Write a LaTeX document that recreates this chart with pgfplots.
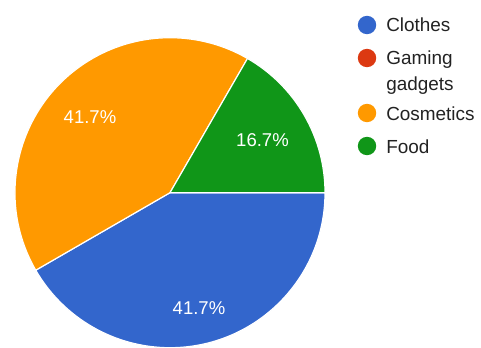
\documentclass[border=0pt]{standalone}
\usepackage{pgfplots}
\pgfplotsset{compat=1.18}
\usepackage{pgfplotstable}
\usepackage{fontspec}
\setmainfont{Liberation Sans}
\definecolor{cBlue}{HTML}{3366CC}
\definecolor{cRed}{HTML}{DC3912}
\definecolor{cOrange}{HTML}{FF9900}
\definecolor{cGreen}{HTML}{109618}
\definecolor{cText}{HTML}{222222}
\pgfplotstableread{
name count
Clothes 5
Gaming 0
Cosmetics 5
Food 2
}\piedata
\pgfplotstablegetelem{0}{count}\of\piedata \pgfmathsetmacro{\cA}{\pgfplotsretval}
\pgfplotstablegetelem{1}{count}\of\piedata \pgfmathsetmacro{\cB}{\pgfplotsretval}
\pgfplotstablegetelem{2}{count}\of\piedata \pgfmathsetmacro{\cC}{\pgfplotsretval}
\pgfplotstablegetelem{3}{count}\of\piedata \pgfmathsetmacro{\cD}{\pgfplotsretval}
\pgfmathsetmacro{\tot}{\cA+\cB+\cC+\cD}
\pgfmathsetmacro{\aZero}{0}
\pgfmathsetmacro{\aA}{-360*\cA/\tot}
\pgfmathsetmacro{\aB}{\aA-360*\cB/\tot}
\pgfmathsetmacro{\aC}{\aB-360*\cC/\tot}
\pgfmathsetmacro{\aD}{\aC-360*\cD/\tot}
\def\R{116.25pt}
\begin{document}
\begin{tikzpicture}
\begin{axis}[
  x=0.75pt, y=0.75pt,
  xmin=0, xmax=481, ymin=0, ymax=347,
  hide axis, clip=true,
]
\coordinate (sw) at (axis cs:0,0);
\coordinate (ne) at (axis cs:481,347);
\fill[cBlue, draw=white, line width=0.9pt] (axis cs:170,154.3) -- ++(\aZero:\R) arc[start angle=\aZero, end angle=\aA, radius=\R] -- cycle;
\fill[cOrange, draw=white, line width=0.9pt] (axis cs:170,154.3) -- ++(\aB:\R) arc[start angle=\aB, end angle=\aC, radius=\R] -- cycle;
\fill[cGreen, draw=white, line width=0.9pt] (axis cs:170,154.3) -- ++(\aC:\R) arc[start angle=\aC, end angle=\aD, radius=\R] -- cycle;
% slice labels
\node[anchor=base, text=white, font=\fontsize{13.9pt}{16pt}\selectfont, inner sep=0pt] at (axis cs:90,224) {41.7\%};
\node[anchor=base, text=white, font=\fontsize{13.9pt}{16pt}\selectfont, inner sep=0pt] at (axis cs:262.5,201) {16.7\%};
\node[anchor=base, text=white, font=\fontsize{13.9pt}{16pt}\selectfont, inner sep=0pt] at (axis cs:199,33) {41.7\%};
% legend
\fill[cBlue] (axis cs:367,322) circle[radius=6.9pt];
\fill[cRed] (axis cs:367,289) circle[radius=6.9pt];
\fill[cOrange] (axis cs:367,234) circle[radius=6.9pt];
\fill[cGreen] (axis cs:367,201) circle[radius=6.9pt];
\begin{scope}[every node/.style={anchor=base west, inner sep=0pt, text=cText, font=\fontsize{14.2pt}{17pt}\selectfont}]
\node at (axis cs:386,315) {Clothes};
\node at (axis cs:386,282) {Gaming};
\node at (axis cs:386,257) {gadgets};
\node at (axis cs:386,227) {Cosmetics};
\node at (axis cs:386,194) {Food};
\end{scope}
\end{axis}
\pgfresetboundingbox
\useasboundingbox (sw) rectangle (ne);
\end{tikzpicture}
\end{document}
